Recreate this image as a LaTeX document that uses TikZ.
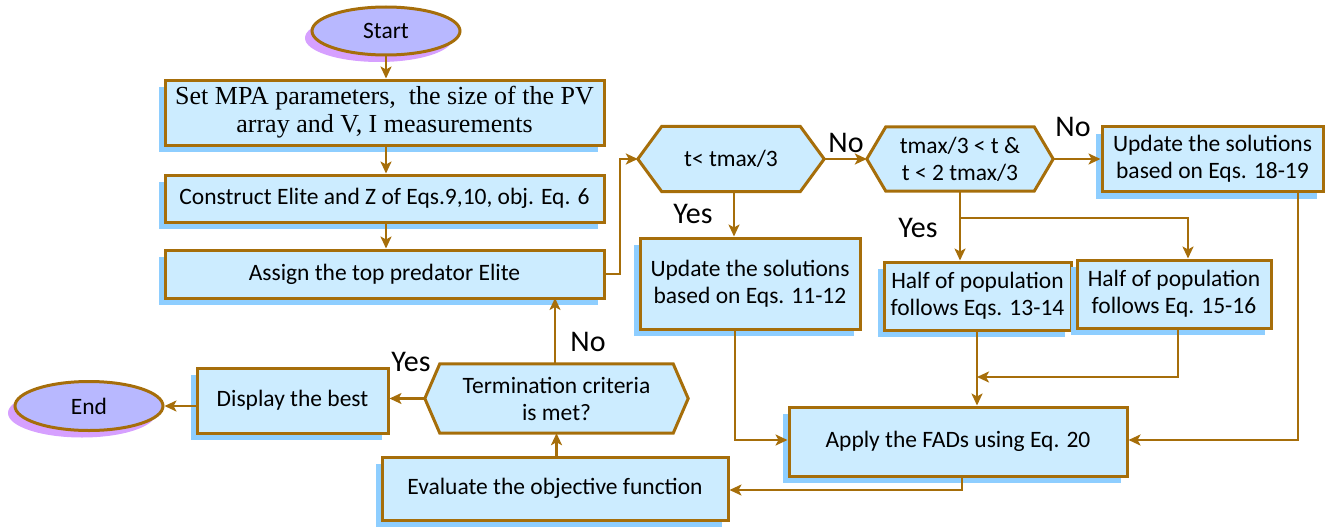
\documentclass[tikz,border=0pt]{standalone}
\usepackage{fontspec}
\setmainfont{Carlito}
\newfontfamily\timesf{Liberation Serif}
\usetikzlibrary{shapes.geometric,arrows.meta,shadows,backgrounds}
\definecolor{brd}{RGB}{166,110,10}
\definecolor{bfill}{RGB}{204,236,255}
\definecolor{bshad}{RGB}{142,206,255}
\definecolor{efill}{RGB}{184,184,255}
\definecolor{eshad}{RGB}{214,160,255}
\tikzset{
  boxnode/.style={draw=brd, line width=3pt, fill=bfill, align=center, inner sep=1pt,
    font=\fontsize{23.5}{27}\selectfont,
    drop shadow={shadow xshift=-6pt, shadow yshift=-7pt, fill=bshad, opacity=1}},
  ellnode/.style={ellipse, draw=brd, line width=3pt, fill=efill, inner sep=0pt,
    font=\fontsize{23.5}{27}\selectfont,
    drop shadow={shadow xshift=-7pt, shadow yshift=-7pt, fill=eshad, opacity=1}},
  hexnode/.style={align=center, inner sep=0pt, font=\fontsize{23.5}{27}\selectfont},
  hexdraw/.style={draw=brd, line width=3pt, fill=bfill, line join=miter},
  hexshad/.style={fill=bshad},
  conn/.style={draw=brd, line width=2.5pt, -{Stealth[length=12pt,width=11pt,inset=3pt]}},
  line/.style={draw=brd, line width=2.5pt},
  lbl/.style={font=\fontsize{30}{32}\selectfont, inner sep=0pt}
}
\newcommand{\hexpath}[2]{(#1.west) -- ([xshift=#2]#1.north west) -- ([xshift=-#2]#1.north east) -- (#1.east) -- ([xshift=-#2]#1.south east) -- ([xshift=#2]#1.south west) -- cycle}
\begin{document}
\begin{tikzpicture}[x=1pt,y=-1pt]
\useasboundingbox (0,0) rectangle (1332,527);
% nodes
\node[ellnode, minimum width=148pt, minimum height=48pt] (start) at (386,31) {Start};
\node[boxnode, minimum width=439pt, minimum height=65pt, font=\timesf\fontsize{26}{28}\selectfont] (b1) at (384.5,112.5) {Set MPA parameters,\ \ the size of the PV\\array and V, I measurements};
\node[boxnode, minimum width=439pt, minimum height=47pt] (b2) at (384.5,198.5) {Construct Elite and Z of Eqs.9,10, obj. Eq. 6};
\node[boxnode, minimum width=439pt, minimum height=48pt] (b3) at (384.5,274) {Assign the top predator Elite};
\node[hexnode, minimum width=186pt, minimum height=65pt] (h1) at (731,159) {t< tmax/3};
\node[hexnode, minimum width=186pt, minimum height=64pt] (h2) at (960,159) {tmax/3 < t \&\\t < 2 tmax/3};
\node[boxnode, minimum width=221pt, minimum height=65pt] (b4) at (1212.5,159) {Update the solutions\\based on Eqs. 18-19};
\node[boxnode, minimum width=220pt, minimum height=91pt] (b5) at (750,283.5) {Update the solutions\\based on Eqs. 11-12};
\node[boxnode, minimum width=187pt, minimum height=68pt] (b6) at (977.5,296) {Half of population\\follows Eqs. 13-14};
\node[boxnode, minimum width=194pt, minimum height=68pt] (b7) at (1174,294) {Half of population\\follows Eq. 15-16};
\node[boxnode, minimum width=338pt, minimum height=69pt] (b8) at (958,441.5) {Apply the FADs using Eq. 20};
\node[boxnode, minimum width=346pt, minimum height=63pt] (b9) at (555,488.5) {Evaluate the objective function};
\node[hexnode, minimum width=263pt, minimum height=69pt] (h3) at (556.5,398.5) {Termination criteria\\is met?};
\node[boxnode, minimum width=191pt, minimum height=65pt] (b10) at (292.5,400.5) {Display the best};
\node[ellnode, minimum width=148pt, minimum height=49pt] (end) at (89,406) {End};
% hexagon outlines
\begin{pgfonlayer}{background}
\path[hexshad, xshift=-6pt, yshift=-7pt] \hexpath{h1}{24};
\path[hexdraw] \hexpath{h1}{24};
\path[hexshad, xshift=-6pt, yshift=-7pt] \hexpath{h2}{19};
\path[hexdraw] \hexpath{h2}{19};
\path[hexshad, xshift=-6pt, yshift=-7pt] \hexpath{h3}{15};
\path[hexdraw] \hexpath{h3}{15};
\end{pgfonlayer}
% coordinates
\coordinate (c1) at (620,274);
\coordinate (c2) at (620,159);
\coordinate (s1) at (960,218);
\coordinate (s2) at (1188,218);
\coordinate (m1) at (1178,377);
\coordinate (m2) at (977,377);
\coordinate (r1) at (1298,440);
\coordinate (l1) at (735,440);
\coordinate (e1) at (962,490);
\coordinate (t3) at (555,298);
% connectors
\draw[conn] (start.south) -- (b1.north -| start.south);
\draw[conn] (b1.south -| start.south) -- (b2.north -| start.south);
\draw[conn] (b2.south -| start.south) -- (b3.north -| start.south);
\draw[conn] (b3.east) -- (c1) -- (c2) -- (h1.west);
\draw[conn] (h1.east) -- (h2.west);
\draw[conn] (h2.east) -- (b4.west);
\draw[conn] (h1.south -| 734,0) -- (b5.north -| 734,0);
\draw[line] (h2.south) -- (s1);
\draw[conn] (s1) -- (s2) -- (b7.north -| s2);
\draw[conn] (s1) -- (b6.north -| s1);
\draw[conn] (b7.south -| m1) -- (m1) -- (m2);
\draw[conn] (b6.south -| m2) -- (b8.north -| m2);
\draw[conn] (b5.south -| l1) -- (l1) -- (b8.west |- l1);
\draw[conn] (b4.south -| r1) -- (r1) -- (b8.east |- r1);
\draw[conn] (b8.south -| e1) -- (e1) -- (b9.east |- e1);
\draw[conn] (b9.north -| h3.south) -- (h3.south);
\draw[conn] (h3.north -| t3) -- (t3);
\draw[conn] (h3.west) -- (b10.east |- h3.west);
\draw[conn] (b10.west |- end.east) -- (end.east);
% labels
\node[lbl] (n1) at (846,143) {No};
\node[lbl] (n2) at (1073,127) {No};
\node[lbl] (y1) at (693,214) {Yes};
\node[lbl] (y2) at (918,228) {Yes};
\node[lbl] (n3) at (588,342) {No};
\node[lbl] (y3) at (411,362) {Yes};
\end{tikzpicture}
\end{document}
